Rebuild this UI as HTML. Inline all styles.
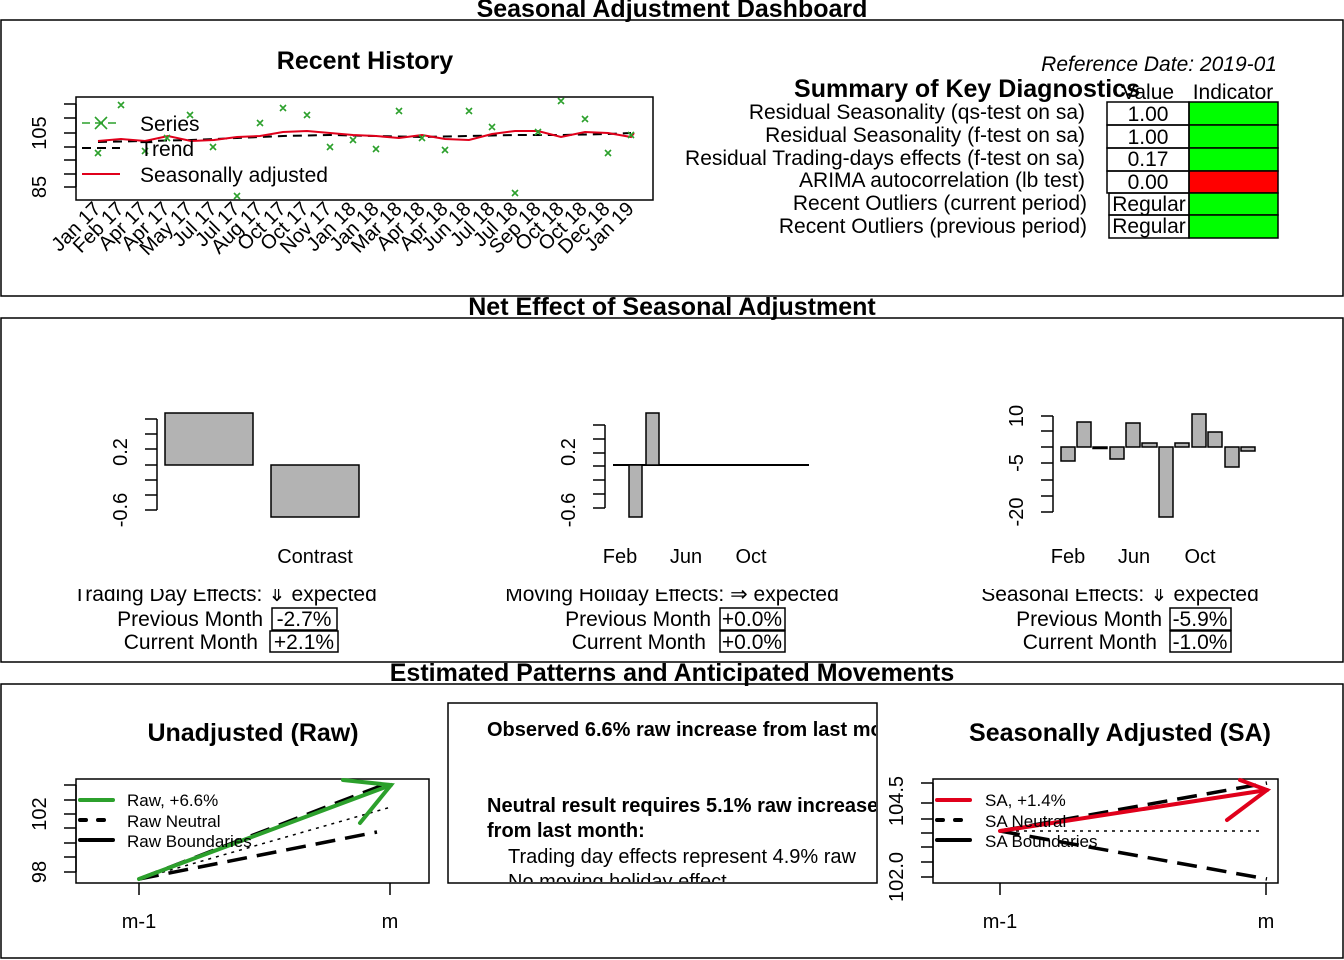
<!DOCTYPE html>
<html><head><meta charset="utf-8"><style>
html,body{margin:0;padding:0;background:#fff}
svg{display:block;font-family:"Liberation Sans",Arial,sans-serif}
</style></head><body>
<svg width="1344" height="960" viewBox="0 0 1344 960" xmlns="http://www.w3.org/2000/svg">
<defs>
<clipPath id="c2"><rect x="448" y="704" width="428" height="178"/></clipPath>
</defs>
<rect width="1344" height="960" fill="#fff"/>
<g fill="none" stroke="#000" stroke-width="1.5">
<rect x="1" y="20" width="1342" height="276"/>
<rect x="1" y="318" width="1342" height="344"/>
<rect x="1" y="684" width="1342" height="274"/>
</g>
<g font-weight="bold" font-size="25" text-anchor="middle">
<text x="672" y="17">Seasonal Adjustment Dashboard</text>
<text x="672" y="315">Net Effect of Seasonal Adjustment</text>
<text x="672" y="681">Estimated Patterns and Anticipated Movements</text>
</g>

<!-- Recent History -->
<text x="365" y="69" font-size="25" font-weight="bold" text-anchor="middle">Recent History</text>
<rect x="76" y="97" width="577" height="103" fill="none" stroke="#000" stroke-width="1.5"/>
<g stroke="#000" stroke-width="1.5">
<line x1="76" y1="104" x2="76" y2="187"/>
<line x1="64" y1="104" x2="76" y2="104"/><line x1="64" y1="118" x2="76" y2="118"/><line x1="64" y1="133" x2="76" y2="133"/><line x1="64" y1="147" x2="76" y2="147"/><line x1="64" y1="160" x2="76" y2="160"/><line x1="64" y1="174" x2="76" y2="174"/><line x1="64" y1="187" x2="76" y2="187"/>
</g>
<g font-size="20" text-anchor="middle">
<text transform="translate(46,133) rotate(-90)">105</text>
<text transform="translate(46,187) rotate(-90)">85</text>
</g>
<polyline fill="none" stroke="#000" stroke-width="2" stroke-dasharray="9,6" points="98,142 145,141 191,140 237,138 283,136 330,135 376,136 422,137 469,136 515,135 561,135 608,134 631,133"/>
<polyline fill="none" stroke="#e0001b" stroke-width="2" points="98,141 121,139 145,141 168,136 191,141 214,140 237,137 260,136 283,132 307,131 330,133 353,135 376,136 399,138 422,135 445,139 469,140 492,134 515,131 538,131 561,137 585,132 608,133 631,137 634,133"/>
<g stroke="#2ca02c" stroke-width="1.6" fill="none">
<path d="M95,150l6,6m0,-6l-6,6 M118,102l6,6m0,-6l-6,6 M142,148l6,6m0,-6l-6,6 M164,135l6,6m0,-6l-6,6 M187,112l6,6m0,-6l-6,6 M210,144l6,6m0,-6l-6,6 M234,193l6,6m0,-6l-6,6 M257,120l6,6m0,-6l-6,6 M280,105l6,6m0,-6l-6,6 M304,112l6,6m0,-6l-6,6 M327,144l6,6m0,-6l-6,6 M350,137l6,6m0,-6l-6,6 M373,146l6,6m0,-6l-6,6 M396,108l6,6m0,-6l-6,6 M419,135l6,6m0,-6l-6,6 M442,147l6,6m0,-6l-6,6 M466,108l6,6m0,-6l-6,6 M489,124l6,6m0,-6l-6,6 M512,190l6,6m0,-6l-6,6 M535,129l6,6m0,-6l-6,6 M558,98l6,6m0,-6l-6,6 M582,116l6,6m0,-6l-6,6 M605,150l6,6m0,-6l-6,6 M628,132l6,6m0,-6l-6,6"/>
</g>
<line x1="82" y1="123" x2="120" y2="123" stroke="#2ca02c" stroke-width="1.6" stroke-dasharray="8,5"/>
<path d="M95,117l12,12m0,-12l-12,12" stroke="#2ca02c" stroke-width="1.6"/>
<line x1="82" y1="148" x2="120" y2="148" stroke="#000" stroke-width="2" stroke-dasharray="9,6"/>
<line x1="82" y1="174" x2="120" y2="174" stroke="#e0001b" stroke-width="2"/>
<g font-size="21">
<text x="140" y="131">Series</text>
<text x="140" y="156">Trend</text>
<text x="140" y="182">Seasonally adjusted</text>
</g>
<g font-size="20" text-anchor="end">
<text transform="translate(102,210) rotate(-45)">Jan 17</text>
<text transform="translate(125,210) rotate(-45)">Feb 17</text>
<text transform="translate(148,210) rotate(-45)">Apr 17</text>
<text transform="translate(171,210) rotate(-45)">Apr 17</text>
<text transform="translate(194,210) rotate(-45)">May 17</text>
<text transform="translate(218,210) rotate(-45)">Jul 17</text>
<text transform="translate(241,210) rotate(-45)">Jul 17</text>
<text transform="translate(264,210) rotate(-45)">Aug 17</text>
<text transform="translate(287,210) rotate(-45)">Oct 17</text>
<text transform="translate(310,210) rotate(-45)">Oct 17</text>
<text transform="translate(333,210) rotate(-45)">Nov 17</text>
<text transform="translate(357,210) rotate(-45)">Jan 18</text>
<text transform="translate(380,210) rotate(-45)">Jan 18</text>
<text transform="translate(403,210) rotate(-45)">Mar 18</text>
<text transform="translate(426,210) rotate(-45)">Apr 18</text>
<text transform="translate(449,210) rotate(-45)">Apr 18</text>
<text transform="translate(472,210) rotate(-45)">Jun 18</text>
<text transform="translate(496,210) rotate(-45)">Jul 18</text>
<text transform="translate(519,210) rotate(-45)">Jul 18</text>
<text transform="translate(542,210) rotate(-45)">Sep 18</text>
<text transform="translate(565,210) rotate(-45)">Oct 18</text>
<text transform="translate(588,210) rotate(-45)">Oct 18</text>
<text transform="translate(611,210) rotate(-45)">Dec 18</text>
<text transform="translate(635,210) rotate(-45)">Jan 19</text>
</g>

<!-- Summary -->
<text x="1277" y="71" font-size="21" font-style="italic" text-anchor="end">Reference Date: 2019-01</text>
<text x="967" y="97" font-size="25" font-weight="bold" text-anchor="middle">Summary of Key Diagnostics</text>
<text x="1148" y="99" font-size="21" text-anchor="middle">Value</text>
<text x="1233" y="99" font-size="21" text-anchor="middle">Indicator</text>
<g stroke="#000" stroke-width="1.5">
<rect x="1189" y="102" width="89" height="23" fill="#00ff00"/>
<rect x="1189" y="125" width="89" height="23" fill="#00ff00"/>
<rect x="1189" y="148" width="89" height="23" fill="#00ff00"/>
<rect x="1189" y="171" width="89" height="22" fill="#ff0000"/>
<rect x="1189" y="193" width="89" height="22" fill="#00ff00"/>
<rect x="1189" y="215" width="89" height="23" fill="#00ff00"/>
<rect x="1107" y="102" width="82" height="23" fill="none"/>
<rect x="1107" y="125" width="82" height="23" fill="none"/>
<rect x="1107" y="148" width="82" height="23" fill="none"/>
<rect x="1107" y="171" width="82" height="22" fill="none"/>
<rect x="1109" y="193" width="80" height="22" fill="none"/>
<rect x="1109" y="215" width="80" height="23" fill="none"/>
</g>
<g font-size="21" text-anchor="middle">
<text x="1148" y="121">1.00</text>
<text x="1148" y="144">1.00</text>
<text x="1148" y="166">0.17</text>
<text x="1148" y="189">0.00</text>
<text x="1149" y="211">Regular</text>
<text x="1149" y="233">Regular</text>
</g>
<g font-size="21" text-anchor="end">
<text x="1085" y="119">Residual Seasonality (qs-test on sa)</text>
<text x="1085" y="142">Residual Seasonality (f-test on sa)</text>
<text x="1085" y="165">Residual Trading-days effects (f-test on sa)</text>
<text x="1085" y="187">ARIMA autocorrelation (lb test)</text>
<text x="1087" y="210">Recent Outliers (current period)</text>
<text x="1087" y="233">Recent Outliers (previous period)</text>
</g>

<!-- Bar chart 1 -->
<g stroke="#000" stroke-width="1.5">
<line x1="157" y1="419" x2="157" y2="510"/>
<line x1="145" y1="419" x2="157" y2="419"/><line x1="145" y1="434" x2="157" y2="434"/><line x1="145" y1="449" x2="157" y2="449"/><line x1="145" y1="465" x2="157" y2="465"/><line x1="145" y1="480" x2="157" y2="480"/><line x1="145" y1="495" x2="157" y2="495"/><line x1="145" y1="510" x2="157" y2="510"/>
<rect x="165" y="413" width="88" height="52" fill="#b3b3b3"/>
<rect x="271" y="465" width="88" height="52" fill="#b3b3b3"/>
</g>
<g font-size="20" text-anchor="middle">
<text transform="translate(127,452) rotate(-90)">0.2</text>
<text transform="translate(127,510) rotate(-90)">-0.6</text>
<text x="315" y="563">Contrast</text>
</g>
<!-- Bar chart 2 -->
<g stroke="#000" stroke-width="1.5">
<line x1="605" y1="425" x2="605" y2="508"/>
<line x1="593" y1="425" x2="605" y2="425"/><line x1="593" y1="439" x2="605" y2="439"/><line x1="593" y1="453" x2="605" y2="453"/><line x1="593" y1="466" x2="605" y2="466"/><line x1="593" y1="480" x2="605" y2="480"/><line x1="593" y1="494" x2="605" y2="494"/><line x1="593" y1="508" x2="605" y2="508"/>
<line x1="613" y1="465" x2="809" y2="465" stroke-width="2"/>
<rect x="629" y="465" width="13" height="52" fill="#b3b3b3"/>
<rect x="646" y="413" width="13" height="52" fill="#b3b3b3"/>
</g>
<g font-size="20" text-anchor="middle">
<text transform="translate(575,452) rotate(-90)">0.2</text>
<text transform="translate(575,510) rotate(-90)">-0.6</text>
<text x="620" y="563">Feb</text><text x="686" y="563">Jun</text><text x="751" y="563">Oct</text>
</g>
<!-- Bar chart 3 -->
<g stroke="#000" stroke-width="1.5">
<line x1="1053" y1="416" x2="1053" y2="512"/>
<line x1="1041" y1="416" x2="1053" y2="416"/><line x1="1041" y1="431" x2="1053" y2="431"/><line x1="1041" y1="447" x2="1053" y2="447"/><line x1="1041" y1="463" x2="1053" y2="463"/><line x1="1041" y1="480" x2="1053" y2="480"/><line x1="1041" y1="496" x2="1053" y2="496"/><line x1="1041" y1="512" x2="1053" y2="512"/>
<g fill="#b3b3b3">
<rect x="1061" y="447" width="14" height="14"/>
<rect x="1077" y="422" width="14" height="25"/>
<rect x="1093" y="447" width="14" height="1.5"/>
<rect x="1110" y="447" width="14" height="12"/>
<rect x="1126" y="423" width="14" height="24"/>
<rect x="1142" y="443" width="15" height="4"/>
<rect x="1159" y="447" width="14" height="70"/>
<rect x="1175" y="443" width="14" height="4"/>
<rect x="1192" y="414" width="14" height="33"/>
<rect x="1208" y="432" width="14" height="15"/>
<rect x="1225" y="447" width="14" height="20"/>
<rect x="1241" y="447" width="14" height="4"/>
</g>
</g>
<g font-size="20" text-anchor="middle">
<text transform="translate(1023,416) rotate(-90)">10</text>
<text transform="translate(1023,463) rotate(-90)">-5</text>
<text transform="translate(1023,512) rotate(-90)">-20</text>
<text x="1068" y="563">Feb</text><text x="1134" y="563">Jun</text><text x="1200" y="563">Oct</text>
</g>

<!-- effects text (top clipped) -->
<g font-size="21" text-anchor="middle">
<text x="225" y="601">Trading Day Effects: ⇓ expected</text>
<text x="672" y="601">Moving Holiday Effects: ⇒ expected</text>
<text x="1120" y="601">Seasonal Effects: ⇓ expected</text>
</g>
<rect x="3" y="572" width="1338" height="17" fill="#fff"/>
<g font-size="21" text-anchor="end">
<text x="263" y="626">Previous Month</text><text x="258" y="649">Current Month</text>
<text x="711" y="626">Previous Month</text><text x="706" y="649">Current Month</text>
<text x="1162" y="626">Previous Month</text><text x="1157" y="649">Current Month</text>
</g>
<g stroke="#000" stroke-width="1.5" fill="none">
<rect x="272" y="608" width="65" height="22"/><rect x="270" y="631" width="68" height="21"/>
<rect x="720" y="608" width="65" height="22"/><rect x="720" y="631" width="65" height="21"/>
<rect x="1170" y="608" width="61" height="22"/><rect x="1170" y="631" width="61" height="21"/>
</g>
<g font-size="21" text-anchor="middle">
<text x="304" y="626">-2.7%</text><text x="304" y="649">+2.1%</text>
<text x="752" y="626">+0.0%</text><text x="752" y="649">+0.0%</text>
<text x="1200" y="626">-5.9%</text><text x="1200" y="649">-1.0%</text>
</g>

<!-- Unadjusted (Raw) -->
<text x="253" y="741" font-size="25" font-weight="bold" text-anchor="middle">Unadjusted (Raw)</text>
<rect x="76" y="779" width="353" height="104" fill="none" stroke="#000" stroke-width="1.5"/>
<g stroke="#000" stroke-width="1.5">
<line x1="76" y1="785" x2="76" y2="872"/>
<line x1="64" y1="785" x2="76" y2="785"/><line x1="64" y1="800" x2="76" y2="800"/><line x1="64" y1="814" x2="76" y2="814"/><line x1="64" y1="828" x2="76" y2="828"/><line x1="64" y1="843" x2="76" y2="843"/><line x1="64" y1="857" x2="76" y2="857"/><line x1="64" y1="872" x2="76" y2="872"/>
<line x1="139" y1="883" x2="139" y2="895"/><line x1="390" y1="883" x2="390" y2="895"/>
</g>
<g font-size="20" text-anchor="middle">
<text transform="translate(46,814) rotate(-90)">102</text>
<text transform="translate(46,872) rotate(-90)">98</text>
<text x="139" y="928">m-1</text><text x="390" y="928">m</text>
</g>
<line x1="139" y1="879" x2="391" y2="807" stroke="#000" stroke-width="1.5" stroke-dasharray="3,5"/>
<line x1="139" y1="879" x2="391" y2="782" stroke="#000" stroke-width="3.5" stroke-dasharray="20,10"/>
<line x1="139" y1="879" x2="377" y2="832" stroke="#000" stroke-width="3.5" stroke-dasharray="20,10"/>
<g stroke="#2ca02c" stroke-width="4" fill="none" stroke-linecap="round">
<line x1="139" y1="879" x2="391" y2="785"/>
<polyline points="343,780 391,785 360,823"/>
<line x1="80" y1="800" x2="113" y2="800"/>
</g>
<line x1="80" y1="820" x2="113" y2="820" stroke="#000" stroke-width="4" stroke-dasharray="6,12" stroke-linecap="round"/>
<line x1="80" y1="840" x2="113" y2="840" stroke="#000" stroke-width="4" stroke-linecap="round"/>
<g font-size="17">
<text x="127" y="806">Raw, +6.6%</text>
<text x="127" y="827">Raw Neutral</text>
<text x="127" y="847">Raw Boundaries</text>
</g>

<!-- text box -->
<rect x="448" y="703" width="429" height="180" fill="none" stroke="#000" stroke-width="1.5"/>
<g clip-path="url(#c2)" font-size="20">
<text x="487" y="736" font-weight="bold">Observed 6.6% raw increase from last month</text>
<text x="487" y="812" font-weight="bold">Neutral result requires 5.1% raw increase</text>
<text x="487" y="837" font-weight="bold">from last month:</text>
<text x="508" y="863">Trading day effects represent 4.9% raw</text>
<text x="508" y="888">No moving holiday effect</text>
</g>
<rect x="878" y="700" width="40" height="190" fill="#fff"/>

<!-- SA -->
<text x="1120" y="741" font-size="25" font-weight="bold" text-anchor="middle">Seasonally Adjusted (SA)</text>
<rect x="933" y="779" width="345" height="104" fill="none" stroke="#000" stroke-width="1.5"/>
<g stroke="#000" stroke-width="1.5">
<line x1="933" y1="783" x2="933" y2="877"/>
<line x1="921" y1="783" x2="933" y2="783"/><line x1="921" y1="803" x2="933" y2="803"/><line x1="921" y1="819" x2="933" y2="819"/><line x1="921" y1="833" x2="933" y2="833"/><line x1="921" y1="847" x2="933" y2="847"/><line x1="921" y1="862" x2="933" y2="862"/><line x1="921" y1="877" x2="933" y2="877"/>
<line x1="1000" y1="883" x2="1000" y2="895"/><line x1="1266" y1="883" x2="1266" y2="895"/>
</g>
<g font-size="20" text-anchor="middle">
<text transform="translate(903,801) rotate(-90)">104.5</text>
<text transform="translate(903,877) rotate(-90)">102.0</text>
<text x="1000" y="928">m-1</text><text x="1266" y="928">m</text>
</g>
<line x1="1000" y1="831" x2="1262" y2="831" stroke="#000" stroke-width="1.5" stroke-dasharray="3,5"/>
<line x1="1000" y1="831" x2="1267" y2="783" stroke="#000" stroke-width="3.5" stroke-dasharray="20,10"/>
<line x1="1000" y1="831" x2="1267" y2="879" stroke="#000" stroke-width="3.5" stroke-dasharray="20,10"/>
<g stroke="#e0001b" stroke-width="4" fill="none" stroke-linecap="round">
<line x1="1000" y1="831" x2="1267" y2="790"/>
<polyline points="1240,780 1267,790 1227,820"/>
<line x1="937" y1="800" x2="970" y2="800"/>
</g>
<line x1="937" y1="820" x2="970" y2="820" stroke="#000" stroke-width="4" stroke-dasharray="6,12" stroke-linecap="round"/>
<line x1="937" y1="840" x2="970" y2="840" stroke="#000" stroke-width="4" stroke-linecap="round"/>
<g font-size="17">
<text x="985" y="806">SA, +1.4%</text>
<text x="985" y="827">SA Neutral</text>
<text x="985" y="847">SA Boundaries</text>
</g>
</svg>
</body></html>
